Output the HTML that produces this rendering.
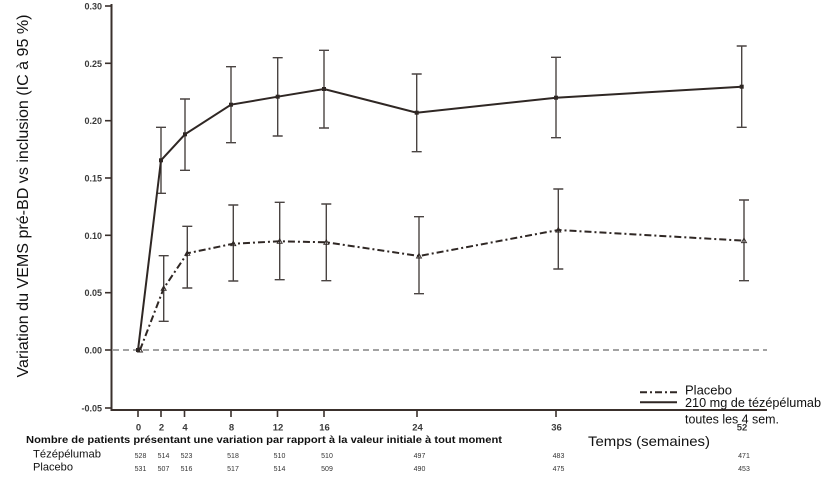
<!DOCTYPE html>
<html><head><meta charset="utf-8"><style>
html,body{margin:0;padding:0;background:#fff;}
svg{display:block;}
text{font-family:"Liberation Sans",Arial,sans-serif;}
</style></head><body>
<svg width="829" height="481" viewBox="0 0 829 481" xmlns="http://www.w3.org/2000/svg">
<rect width="829" height="481" fill="#fff"/>
<!-- y axis label -->
<text transform="translate(28,196) rotate(-90)" text-anchor="middle" font-size="16" fill="#111" textLength="363" lengthAdjust="spacingAndGlyphs">Variation du VEMS pré-BD vs inclusion (IC à 95 %)</text>
<!-- axes -->
<line x1="111.5" y1="4" x2="111.5" y2="410.5" stroke="#3a302c" stroke-width="2"/>
<line x1="110.5" y1="410" x2="767" y2="410" stroke="#3a302c" stroke-width="2"/>
<!-- y ticks -->
<g stroke="#3a302c" stroke-width="1.6">
<line x1="105" y1="6" x2="111" y2="6"/>
<line x1="105" y1="63.3" x2="111" y2="63.3"/>
<line x1="105" y1="120.7" x2="111" y2="120.7"/>
<line x1="105" y1="178" x2="111" y2="178"/>
<line x1="105" y1="235.3" x2="111" y2="235.3"/>
<line x1="105" y1="292.7" x2="111" y2="292.7"/>
<line x1="105" y1="350" x2="111" y2="350"/>
<line x1="105" y1="408" x2="111" y2="408"/>
</g>
<g font-size="9" font-weight="bold" fill="#3a3a3a" text-anchor="end">
<text x="102" y="9.5">0.30</text>
<text x="102" y="66.8">0.25</text>
<text x="102" y="124.2">0.20</text>
<text x="102" y="181.5">0.15</text>
<text x="102" y="238.8">0.10</text>
<text x="102" y="296.2">0.05</text>
<text x="102" y="353.5">0.00</text>
<text x="102" y="411.5">-0.05</text>
</g>
<!-- x ticks -->
<g stroke="#3a302c" stroke-width="1.6">
<line x1="138" y1="411" x2="138" y2="417"/>
<line x1="161" y1="411" x2="161" y2="417"/>
<line x1="184.5" y1="411" x2="184.5" y2="417"/>
<line x1="231" y1="411" x2="231" y2="417"/>
<line x1="277.5" y1="411" x2="277.5" y2="417"/>
<line x1="324" y1="411" x2="324" y2="417"/>
<line x1="417" y1="411" x2="417" y2="417"/>
<line x1="556" y1="411" x2="556" y2="417"/>
</g>
<g font-size="9.5" font-weight="bold" fill="#3a3a3a" text-anchor="middle">
<text x="138.5" y="430.5">0</text>
<text x="161.5" y="430.5">2</text>
<text x="185" y="430.5">4</text>
<text x="231.5" y="430.5">8</text>
<text x="278" y="430.5">12</text>
<text x="324.5" y="430.5">16</text>
<text x="417.5" y="430.5">24</text>
<text x="556.5" y="430.5">36</text>
<text x="742" y="430.5">52</text>
</g>
<!-- zero dashed line -->
<line x1="113" y1="350" x2="767" y2="350" stroke="#6a6a6a" stroke-width="1.3" stroke-dasharray="6,4"/>
<!-- error bars tez -->
<g stroke="#4a4442" stroke-width="1.4" fill="none">
<path d="M161 127.3V193.3M156 127.3h10M156 193.3h10"/>
<path d="M185 99V170.3M180 99h10M180 170.3h10"/>
<path d="M231 66.7V142.7M226 66.7h10M226 142.7h10"/>
<path d="M277.7 57.7V136M272.7 57.7h10M272.7 136h10"/>
<path d="M324 50.3V128M319 50.3h10M319 128h10"/>
<path d="M416.7 74V151.7M411.7 74h10M411.7 151.7h10"/>
<path d="M556 57.3V137.7M551 57.3h10M551 137.7h10"/>
<path d="M741.7 46V127.3M736.7 46h10M736.7 127.3h10"/>
</g>
<!-- error bars placebo -->
<g stroke="#4a4442" stroke-width="1.4" fill="none">
<path d="M163.7 255.7V321.3M158.7 255.7h10M158.7 321.3h10"/>
<path d="M187.3 226.3V288M182.3 226.3h10M182.3 288h10"/>
<path d="M233.3 205V281M228.3 205h10M228.3 281h10"/>
<path d="M279.7 202.3V279.7M274.7 202.3h10M274.7 279.7h10"/>
<path d="M326.3 204V280.7M321.3 204h10M321.3 280.7h10"/>
<path d="M419 216.7V293.7M414 216.7h10M414 293.7h10"/>
<path d="M558.3 189V269M553.3 189h10M553.3 269h10"/>
<path d="M744 200V280.7M739 200h10M739 280.7h10"/>
</g>
<!-- tez line -->
<polyline points="138,350 161,160.3 185,134.3 231,104.7 277.7,96.7 324,89 416.7,112.7 556,97.7 741.7,86.7" fill="none" stroke="#2f2724" stroke-width="2"/>
<g fill="#2f2724">
<rect x="136" y="348" width="4" height="4"/>
<rect x="159" y="158.3" width="4" height="4"/>
<rect x="183" y="132.3" width="4" height="4"/>
<rect x="229" y="102.7" width="4" height="4"/>
<rect x="275.7" y="94.7" width="4" height="4"/>
<rect x="322" y="87" width="4" height="4"/>
<rect x="414.7" y="110.7" width="4" height="4"/>
<rect x="554" y="95.7" width="4" height="4"/>
<rect x="739.7" y="84.7" width="4" height="4"/>
</g>
<!-- placebo line -->
<polyline points="140,350 163.7,288.3 187.3,253.3 233.3,243.7 279.7,241.3 326.3,242.3 419,256 558.3,230 744,240.7" fill="none" stroke="#2f2724" stroke-width="2" stroke-dasharray="7,3,2,3"/>
<g fill="none" stroke="#2f2724" stroke-width="0.9">
<path d="M140 347.5l2.5 4.5h-5z"/>
<path d="M163.7 285.8l2.5 4.5h-5z"/>
<path d="M187.3 250.8l2.5 4.5h-5z"/>
<path d="M233.3 241.2l2.5 4.5h-5z"/>
<path d="M279.7 238.8l2.5 4.5h-5z"/>
<path d="M326.3 239.8l2.5 4.5h-5z"/>
<path d="M419 253.5l2.5 4.5h-5z"/>
<path d="M558.3 227.5l2.5 4.5h-5z"/>
<path d="M744 238.2l2.5 4.5h-5z"/>
</g>
<!-- legend -->
<line x1="640" y1="392.3" x2="677" y2="392.3" stroke="#2f2724" stroke-width="2" stroke-dasharray="7,3,2,3"/>
<line x1="640" y1="402.3" x2="677" y2="402.3" stroke="#2f2724" stroke-width="2"/>
<g font-size="13" fill="#111">
<text x="685" y="394.5" textLength="47" lengthAdjust="spacingAndGlyphs">Placebo</text>
<text x="685" y="407" textLength="136" lengthAdjust="spacingAndGlyphs">210 mg de tézépélumab</text>
<text x="685" y="423.5" textLength="94" lengthAdjust="spacingAndGlyphs">toutes les 4 sem.</text>
</g>
<text x="588" y="446" font-size="14" fill="#111" textLength="122" lengthAdjust="spacingAndGlyphs">Temps (semaines)</text>
<!-- patient numbers -->
<text x="26" y="443" font-size="10.5" font-weight="bold" fill="#111" textLength="476" lengthAdjust="spacingAndGlyphs">Nombre de patients présentant une variation par rapport à la valeur initiale à tout moment</text>
<text x="33" y="457.5" font-size="11" fill="#111" textLength="68" lengthAdjust="spacingAndGlyphs">Tézépélumab</text>
<text x="33" y="470.5" font-size="11" fill="#111" textLength="40" lengthAdjust="spacingAndGlyphs">Placebo</text>
<g font-size="7" fill="#333" text-anchor="middle">
<text x="140.5" y="458">528</text>
<text x="163.5" y="458">514</text>
<text x="186.5" y="458">523</text>
<text x="233" y="458">518</text>
<text x="279.5" y="458">510</text>
<text x="327" y="458">510</text>
<text x="419.5" y="458">497</text>
<text x="558.5" y="458">483</text>
<text x="744" y="458">471</text>
<text x="140.5" y="471">531</text>
<text x="163.5" y="471">507</text>
<text x="186.5" y="471">516</text>
<text x="233" y="471">517</text>
<text x="279.5" y="471">514</text>
<text x="327" y="471">509</text>
<text x="419.5" y="471">490</text>
<text x="558.5" y="471">475</text>
<text x="744" y="471">453</text>
</g>
</svg>
</body></html>
